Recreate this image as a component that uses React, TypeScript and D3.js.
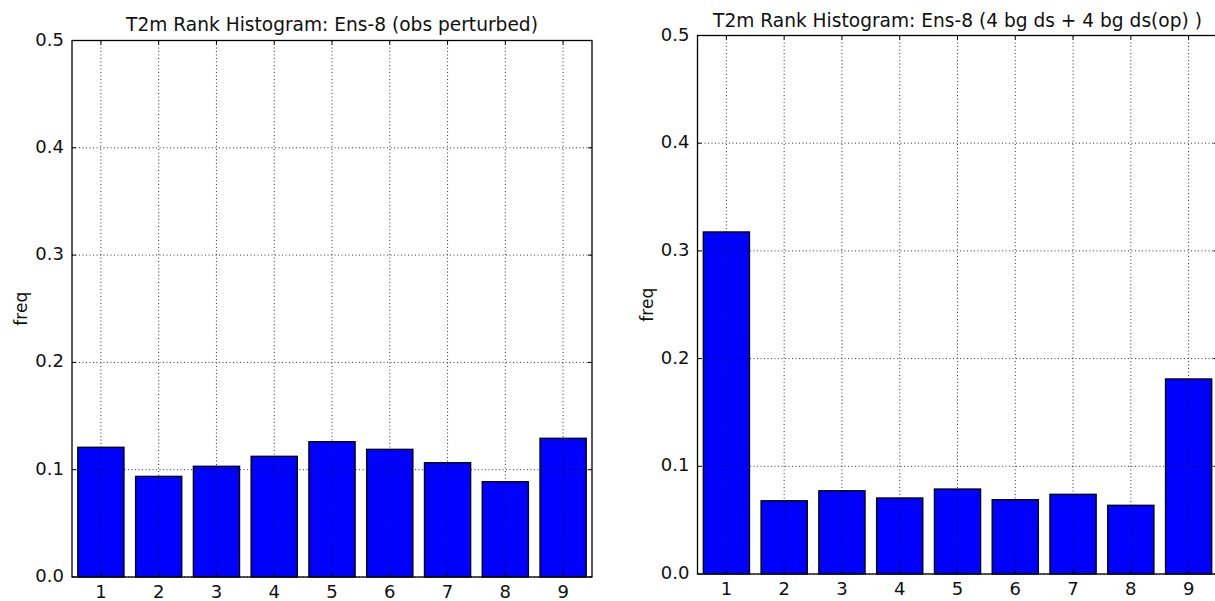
import * as d3 from 'd3'
import React, { useEffect, useRef } from 'react'

const ranks = ['1', '2', '3', '4', '5', '6', '7', '8', '9']
const obsPerturbed = [0.1209, 0.0938, 0.1032, 0.1125, 0.1261, 0.119, 0.1065, 0.0888, 0.1293]
const bgDs = [0.3176, 0.068, 0.0773, 0.0706, 0.0789, 0.069, 0.074, 0.0638, 0.1811]
const yTicks = [0, 0.1, 0.2, 0.3, 0.4, 0.5]

const titleLeft = 'T2m Rank Histogram: Ens-8 (obs perturbed)'
const titleRight = 'T2m Rank Histogram: Ens-8 (4 bg ds + 4 bg ds(op) )'

const W = 1215
const H = 601
const font = 'DejaVu Sans, sans-serif'

type Panel = {
  left: number
  top: number
  bottom: number
  title: string
  values: number[]
  titleY: number
}

const panels: Panel[] = [
  { left: 72, top: 40.5, bottom: 577, title: titleLeft, values: obsPerturbed, titleY: 31 },
  { left: 697.5, top: 35.5, bottom: 574, title: titleRight, values: bgDs, titleY: 27 },
]

const App = () => {
  const svgRef = useRef<SVGSVGElement | null>(null)

  useEffect(() => {
    const svg = d3.select(svgRef.current)
    svg.selectAll('*').remove()

    panels.forEach((p) => {
      const width = 520
      const x = d3.scaleLinear().domain([0.5, 9.5]).range([p.left, p.left + width])
      const y = d3.scaleLinear().domain([0, 0.5]).range([p.bottom, p.top])
      const g = svg.append('g')

      // bars
      g.selectAll('rect.bar')
        .data(p.values)
        .enter()
        .append('rect')
        .attr('class', 'bar')
        .attr('x', (_, i) => x(i + 1 - 0.4))
        .attr('width', x(1.4) - x(0.6))
        .attr('y', (d) => y(d))
        .attr('height', (d) => y(0) - y(d))
        .style('fill', '#0000ff')
        .style('stroke', '#000')
        .style('stroke-width', 1.3)

      // grid
      g.selectAll('line.vgrid')
        .data(ranks)
        .enter()
        .append('line')
        .attr('x1', (_, i) => x(i + 1))
        .attr('x2', (_, i) => x(i + 1))
        .attr('y1', p.top)
        .attr('y2', p.bottom)
        .style('stroke', '#000')
        .style('stroke-width', 0.8)
        .style('stroke-dasharray', '1,2.5')
      g.selectAll('line.hgrid')
        .data(yTicks)
        .enter()
        .append('line')
        .attr('x1', p.left)
        .attr('x2', p.left + width)
        .attr('y1', (d) => y(d))
        .attr('y2', (d) => y(d))
        .style('stroke', '#000')
        .style('stroke-width', 0.8)
        .style('stroke-dasharray', '1,2.5')

      // frame
      g.append('rect')
        .attr('x', p.left)
        .attr('y', p.top)
        .attr('width', width)
        .attr('height', p.bottom - p.top)
        .style('fill', 'none')
        .style('stroke', '#000')
        .style('stroke-width', 1.3)

      // inward ticks on all sides
      ranks.forEach((_, i) => {
        const xv = x(i + 1)
        g.append('line').attr('x1', xv).attr('x2', xv).attr('y1', p.bottom).attr('y2', p.bottom - 4).style('stroke', '#000')
        g.append('line').attr('x1', xv).attr('x2', xv).attr('y1', p.top).attr('y2', p.top + 4).style('stroke', '#000')
      })
      yTicks.forEach((t) => {
        g.append('line').attr('x1', p.left).attr('x2', p.left + 4).attr('y1', y(t)).attr('y2', y(t)).style('stroke', '#000')
        g.append('line').attr('x1', p.left + width).attr('x2', p.left + width - 4).attr('y1', y(t)).attr('y2', y(t)).style('stroke', '#000')
      })

      // tick labels
      g.selectAll('text.xt')
        .data(ranks)
        .enter()
        .append('text')
        .attr('x', (_, i) => x(i + 1))
        .attr('y', p.bottom + 21)
        .attr('text-anchor', 'middle')
        .style('font-family', font)
        .style('font-size', '18px')
        .style('fill', '#111')
        .text((d) => d)
      g.selectAll('text.yt')
        .data(yTicks)
        .enter()
        .append('text')
        .attr('x', p.left - 8)
        .attr('y', (d) => y(d) + 5)
        .attr('text-anchor', 'end')
        .style('font-family', font)
        .style('font-size', '18px')
        .style('fill', '#111')
        .text((d) => d3.format('.1f')(d))

      // axis label
      g.append('text')
        .attr('transform', `translate(${p.left - 45},${(p.top + p.bottom) / 2}) rotate(-90)`)
        .attr('text-anchor', 'middle')
        .style('font-family', font)
        .style('font-size', '17px')
        .style('fill', '#111')
        .text('freq')

      // title
      g.append('text')
        .attr('x', p.left + width / 2)
        .attr('y', p.titleY)
        .attr('text-anchor', 'middle')
        .style('font-family', font)
        .style('font-size', '18.6px')
        .style('fill', '#111')
        .text(p.title)
    })
  }, [])

  return (
    <svg
      ref={svgRef}
      width={W}
      height={H}
      style={{ position: 'absolute', left: 0, top: 0, background: '#fff' }}
    ></svg>
  )
}

export default App
